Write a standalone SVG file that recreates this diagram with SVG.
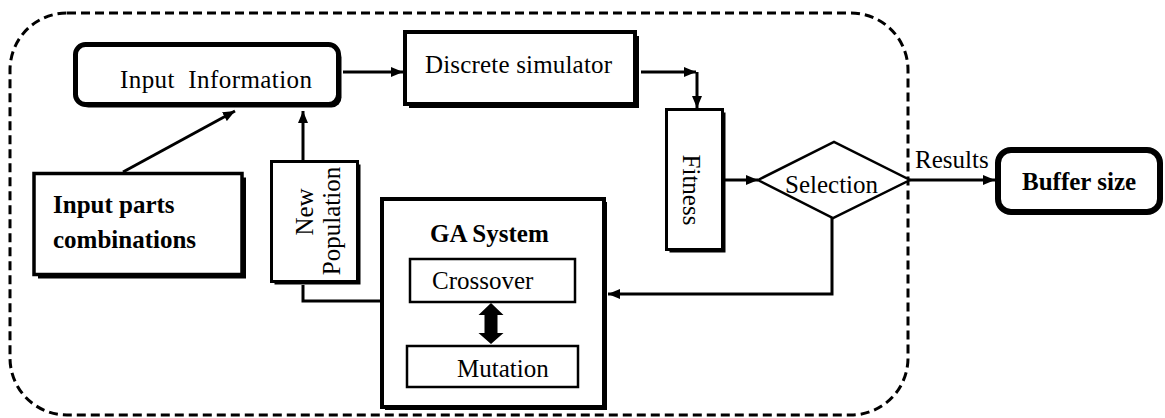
<svg xmlns="http://www.w3.org/2000/svg" width="1165" height="418" viewBox="0 0 1165 418">
<defs>
<style>
text{font-family:"Liberation Serif","Times New Roman",serif;font-size:25px;fill:#000}
.b{font-weight:bold}
.box{fill:#fff;stroke:#000}
.sh{fill:#000;stroke:none}
.ln{fill:none;stroke:#000;stroke-width:3}
</style>
<marker id="ah" viewBox="0 0 12 10" refX="12" refY="5" markerWidth="12" markerHeight="10" markerUnits="userSpaceOnUse" orient="auto">
<path d="M0,0 L12,5 L0,10 Z" fill="#000"/>
</marker>
</defs>
<rect id="boundary" x="10" y="13" width="898" height="402" rx="57" ry="57" fill="none" stroke="#000" stroke-width="3" stroke-dasharray="9 5"/>

<g id="input-information">
<rect x="78.5" y="47.5" width="263" height="60" rx="10" class="sh"/>
<rect x="75.5" y="44.5" width="263" height="60" rx="10" class="box" stroke-width="5"/>
<text x="120" y="88" xml:space="preserve" textLength="192">Input  Information</text>
</g>

<g id="discrete-simulator">
<rect x="409" y="36" width="230" height="72" class="sh"/>
<rect x="405" y="32" width="230" height="72" class="box" stroke-width="4"/>
<text x="425" y="73" textLength="187">Discrete simulator</text>
</g>

<g id="fitness">
<rect x="669.5" y="112.5" width="56" height="140" class="sh"/>
<rect x="666.5" y="109.5" width="56" height="140" class="box" stroke-width="3"/>
<text transform="translate(683,190) rotate(90)" text-anchor="middle">Fitness</text>
</g>

<g id="selection">
<polygon points="758,180 834,142 910,180 833,218" class="box" stroke-width="2.5"/>
<text x="785" y="193">Selection</text>
</g>

<g id="buffer-size">
<rect x="998" y="150" width="162" height="62" rx="13" class="box" stroke-width="6"/>
<text x="1022" y="190" class="b">Buffer size</text>
</g>

<g id="input-parts">
<rect x="38" y="177.5" width="208" height="101" class="sh"/>
<rect x="34" y="173.5" width="208" height="101" class="box" stroke-width="3.5"/>
<text x="53" y="213" class="b">Input parts</text>
<text x="53" y="248" class="b">combinations</text>
</g>

<g id="new-population">
<rect x="274.5" y="164.5" width="86" height="120" class="sh"/>
<rect x="271.5" y="161.5" width="86" height="120" class="box" stroke-width="3"/>
<text transform="translate(313,212) rotate(-90)" text-anchor="middle">New</text>
<text transform="translate(340,221) rotate(-90)" text-anchor="middle">Population</text>
</g>

<g id="ga-system">
<rect x="385" y="202" width="222" height="208" class="sh"/>
<rect x="382" y="199" width="222" height="208" class="box" stroke-width="4"/>
<text x="430" y="242" class="b">GA System</text>
</g>

<g id="crossover">
<rect x="410" y="259" width="165" height="43" class="box" stroke-width="2.5"/>
<text x="432" y="289">Crossover</text>
</g>

<g id="mutation">
<rect x="407" y="346" width="171" height="41" class="box" stroke-width="2.5"/>
<text x="457" y="377">Mutation</text>
</g>

<g id="connectors">
<line class="ln" x1="343" y1="72" x2="403" y2="72" marker-end="url(#ah)"/>
<line class="ln" x1="641" y1="72" x2="696" y2="72" marker-end="url(#ah)"/>
<line class="ln" x1="697" y1="72" x2="697" y2="108" marker-end="url(#ah)"/>
<line class="ln" x1="123" y1="172" x2="235" y2="111" marker-end="url(#ah)"/>
<line class="ln" x1="303" y1="161" x2="303" y2="111" marker-end="url(#ah)"/>
<polyline class="ln" points="303,285 303,301 382,301"/>
<line class="ln" x1="725" y1="180" x2="758" y2="180" marker-end="url(#ah)"/>
<polyline class="ln" points="832,218 832,294 608,294" marker-end="url(#ah)"/>
<line class="ln" x1="910" y1="180" x2="995" y2="180" marker-end="url(#ah)"/>
<text x="915" y="168">Results</text>
<path d="M491,303 L503.5,315 L497.5,315 L497.5,333 L503.5,333 L491,344 L478.5,333 L484.5,333 L484.5,315 L478.5,315 Z" fill="#000"/>
</g>
</svg>
